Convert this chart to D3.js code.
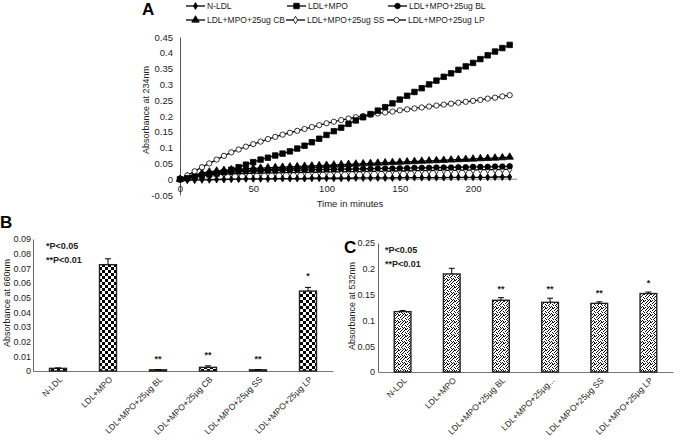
<!DOCTYPE html>
<html><head><meta charset="utf-8">
<script src="https://cdn.jsdelivr.net/npm/d3@7/dist/d3.min.js"></script>
<style>
html,body{margin:0;padding:0;background:#fff;}
svg{display:block;font-family:"Liberation Sans",Arial,sans-serif;}
</style></head>
<body>
<script>
// ---------- Panel A data ----------
const timeMin = [0,5,10,15,20,25,30,35,40,45,
  50,55,60,65,70,75,80,85,90,95,
  100,105,110,115,120,125,130,135,140,145,
  150,155,160,165,170,175,180,185,190,195,
  200,205,210,215,220,225];
const nLDL = [0,-0.003,-0.003,-0.002,-0.002,-0.001,-0.001,0,0,0.001,
  0.001,0.001,0.001,0.002,0.002,0.002,0.002,0.002,0.003,0.003,
  0.003,0.003,0.003,0.003,0.004,0.004,0.004,0.004,0.004,0.004,
  0.005,0.005,0.005,0.005,0.005,0.005,0.005,0.006,0.006,0.006,
  0.006,0.006,0.006,0.007,0.007,0.007];
const ldlMPO = [0,0.003,0.007,0.011,0.015,0.018,0.022,0.030,0.038,0.046,
  0.054,0.062,0.068,0.075,0.081,0.088,0.097,0.106,0.117,0.128,
  0.140,0.152,0.163,0.175,0.186,0.196,0.206,0.217,0.228,0.240,
  0.252,0.264,0.276,0.288,0.300,0.312,0.324,0.335,0.346,0.357,
  0.368,0.380,0.392,0.404,0.415,0.425];
const ldlBL = [0,0.006,0.011,0.015,0.018,0.020,0.022,0.023,0.024,0.025,
  0.026,0.026,0.027,0.027,0.028,0.028,0.029,0.029,0.030,0.030,
  0.031,0.031,0.032,0.032,0.032,0.033,0.033,0.034,0.034,0.034,
  0.035,0.035,0.036,0.036,0.036,0.037,0.037,0.037,0.038,0.038,
  0.039,0.039,0.039,0.040,0.040,0.041];
const ldlCB = [0,0.008,0.014,0.019,0.023,0.026,0.028,0.030,0.031,0.033,
  0.034,0.035,0.036,0.037,0.038,0.039,0.040,0.041,0.042,0.043,
  0.044,0.045,0.046,0.047,0.048,0.049,0.050,0.051,0.052,0.053,
  0.054,0.055,0.056,0.057,0.058,0.059,0.060,0.061,0.062,0.063,
  0.064,0.065,0.066,0.067,0.068,0.070];
const ldlSS = [0,0.004,0.008,0.011,0.013,0.015,0.016,0.017,0.018,0.018,
  0.019,0.019,0.020,0.020,0.021,0.021,0.021,0.022,0.022,0.022,
  0.023,0.023,0.023,0.024,0.024,0.024,0.025,0.025,0.025,0.026,
  0.026,0.026,0.027,0.027,0.027,0.028,0.028,0.028,0.029,0.029,
  0.029,0.030,0.030,0.030,0.031,0.031];
const ldlLP = [0,0.012,0.025,0.038,0.050,0.062,0.074,0.085,0.094,0.103,
  0.111,0.119,0.127,0.134,0.141,0.147,0.153,0.159,0.165,0.171,
  0.177,0.182,0.187,0.192,0.196,0.200,0.204,0.208,0.211,0.214,
  0.218,0.221,0.224,0.227,0.230,0.233,0.236,0.239,0.242,0.245,
  0.248,0.251,0.255,0.258,0.262,0.266];
const seriesNamesA = ["N-LDL","LDL+MPO","LDL+MPO+25ug BL","LDL+MPO+25ug CB","LDL+MPO+25ug SS","LDL+MPO+25ug LP"];
const yTicksA = [-0.05,0,0.05,0.1,0.15,0.2,0.25,0.3,0.35,0.4,0.45];
const yTickLabelsA = ["-0.05","0","0.05","0.1","0.15","0.2","0.25","0.3","0.35","0.4","0.45"];
const xTicksA = [0,50,100,150,200];

// ---------- Panel B data ----------
const catsB = ["N-LDL","LDL+MPO","LDL+MPO+25µg BL","LDL+MPO+25µg CB","LDL+MPO+25µg SS","LDL+MPO+25µg LP"];
const valsB = [0.0018,0.0725,0.0008,0.0025,0.0008,0.0545];
const errB  = [0.0003,0.0040,0.0002,0.0010,0.0002,0.0025];
const starsB = ["","","**","**","**","*"];
const yTicksB = [0,0.01,0.02,0.03,0.04,0.05,0.06,0.07,0.08,0.09];

// ---------- Panel C data ----------
const catsC = ["N-LDL","LDL+MPO","LDL+MPO+25µg BL","LDL+MPO+25µg...","LDL+MPO+25µg SS","LDL+MPO+25µg LP"];
const valsC = [0.117,0.190,0.139,0.135,0.133,0.152];
const errC  = [0.002,0.011,0.005,0.008,0.003,0.003];
const starsC = ["","","**","**","**","*"];
const yTicksC = [0,0.05,0.1,0.15,0.2,0.25];
const pNotes = ["*P<0.05","**P<0.01"];

// ---------- drawing ----------
const svg = d3.select("body").append("svg").attr("width",680).attr("height",440);
const defs = svg.append("defs");
// checkerboard
const chk = defs.append("pattern").attr("id","chk").attr("patternUnits","userSpaceOnUse")
  .attr("width",6).attr("height",6);
chk.append("rect").attr("width",6).attr("height",6).attr("fill","#fff");
chk.append("rect").attr("width",3).attr("height",3).attr("fill","#000");
chk.append("rect").attr("x",3).attr("y",3).attr("width",3).attr("height",3).attr("fill","#000");
// speckle
const spk = defs.append("pattern").attr("id","spk").attr("patternUnits","userSpaceOnUse")
  .attr("width",7).attr("height",7);
spk.append("rect").attr("width",7).attr("height",7).attr("fill","#fff");
[[0,0],[3,0],[5,1],[1,2],[4,2],[6,3],[2,4],[0,4],[5,5],[3,5],[1,6],[6,6],[2,1],[4,6],[6,0],[3,3]].forEach(p=>{
  spk.append("rect").attr("x",p[0]).attr("y",p[1]).attr("width",1).attr("height",1).attr("fill","#111");
});

// ===== Panel A =====
const xA = d3.scaleLinear().domain([0,230]).range([180,517]);
const yA = d3.scaleLinear().domain([-0.05,0.45]).range([195,37]);
const gA = svg.append("g");
gA.append("text").attr("x",142).attr("y",15).attr("font-size",17).attr("font-weight","bold").text("A");

const yAxA = gA.append("g").attr("transform","translate(180,0)")
  .call(d3.axisLeft(yA).tickValues(yTicksA).tickSize(0).tickPadding(7)
    .tickFormat((d,i)=>yTickLabelsA[i]));
yAxA.select(".domain").attr("stroke","#555");
yAxA.selectAll("text").attr("font-size",9.5).attr("fill","#222").attr("font-family","Liberation Sans, Arial");

const xAxA = gA.append("g").attr("transform",`translate(0,${yA(0)})`)
  .call(d3.axisBottom(xA).tickValues(xTicksA).tickSize(0).tickPadding(6).tickFormat(d3.format("d")));
xAxA.select(".domain").attr("stroke","#888").attr("d",`M${xA(0)},0H${xA(230)}`);
xAxA.selectAll("text").attr("font-size",9.5).attr("fill","#222").attr("font-family","Liberation Sans, Arial");

gA.append("text").attr("transform","translate(146,110) rotate(-90)").attr("text-anchor","middle")
  .attr("dy","0.35em").attr("font-size",9).attr("fill","#222").text("Absorbance at 234nm");
gA.append("text").attr("x",350).attr("y",207).attr("text-anchor","middle")
  .attr("font-size",9.5).attr("fill","#222").text("Time in minutes");

const seriesA = [
  {name:seriesNamesA[0], vals:nLDL, sym:d3.symbolDiamond, size:14, fill:"#000"},
  {name:seriesNamesA[1], vals:ldlMPO, sym:d3.symbolSquare, size:30, fill:"#000"},
  {name:seriesNamesA[2], vals:ldlBL, sym:d3.symbolCircle, size:24, fill:"#000"},
  {name:seriesNamesA[3], vals:ldlCB, sym:d3.symbolTriangle, size:24, fill:"#000"},
  {name:seriesNamesA[4], vals:ldlSS, sym:d3.symbolDiamond, size:16, fill:"#fff"},
  {name:seriesNamesA[5], vals:ldlLP, sym:d3.symbolCircle, size:22, fill:"#fff"}
];
const line = d3.line().x(d=>xA(d[0])).y(d=>yA(d[1]));
const drawOrder = [4,2,3,0,5,1];
drawOrder.forEach(k=>{
  const s = seriesA[k];
  const pts = timeMin.map((t,i)=>[t,s.vals[i]]);
  gA.append("path").datum(pts).attr("d",line).attr("fill","none").attr("stroke","#000").attr("stroke-width",1.3);
  gA.selectAll(null).data(pts).enter().append("path")
    .attr("transform",d=>`translate(${xA(d[0])},${yA(d[1])})`)
    .attr("d",d3.symbol().type(s.sym).size(s.size))
    .attr("fill",s.fill).attr("stroke","#000").attr("stroke-width",0.8);
});

// legend
const legPos = [[186,6],[287,6],[388,6],[186,20],[286,20],[387,20]];
seriesA.forEach((s,i)=>{
  const [lx,ly] = legPos[i];
  const lg = gA.append("g").attr("transform",`translate(${lx},${ly})`);
  lg.append("line").attr("x1",0).attr("x2",19).attr("y1",0).attr("y2",0).attr("stroke","#000").attr("stroke-width",1.3);
  lg.append("path").attr("transform","translate(9.5,0)").attr("d",d3.symbol().type(s.sym).size(s.size))
    .attr("fill",s.fill).attr("stroke","#000").attr("stroke-width",0.8);
  lg.append("text").attr("x",21).attr("y",0).attr("dy","0.35em").attr("font-size",8.5).attr("fill","#222").text(s.name);
});

// ===== bar panel helper =====
function barPanel(opt){
  const g = svg.append("g");
  const x = d3.scaleBand().domain(opt.cats).range(opt.xr).paddingInner(0.66).paddingOuter(0.33);
  const y = d3.scaleLinear().domain(opt.yd).range(opt.yr);
  const yAx = g.append("g").attr("transform",`translate(${opt.xr[0]},0)`)
    .call(d3.axisLeft(y).tickValues(opt.yTicks).tickSize(0).tickPadding(opt.tp).tickFormat(d=>d3.format("")(+d.toFixed(3))));
  yAx.select(".domain").attr("stroke","#666");
  yAx.selectAll("text").attr("font-size",9).attr("fill","#222").attr("font-family","Liberation Sans, Arial");
  const xAx = g.append("g").attr("transform",`translate(0,${opt.yr[0]})`)
    .call(d3.axisBottom(x).tickSize(0).tickFormat(""));
  xAx.select(".domain").attr("stroke","#777");
  g.selectAll(null).data(opt.cats).enter().append("text")
    .attr("transform",d=>`translate(${x(d)+x.bandwidth()/2+5},${opt.yr[0]+9}) rotate(-45)`)
    .attr("text-anchor","end").attr("font-size",8.5).attr("fill","#222").text(d=>d);
  g.selectAll(null).data(opt.cats).enter().append("rect")
    .attr("x",d=>x(d)).attr("width",x.bandwidth())
    .attr("y",(d,i)=>y(opt.vals[i])).attr("height",(d,i)=>y(0)-y(opt.vals[i]))
    .attr("fill",`url(#${opt.pat})`).attr("stroke","#222").attr("stroke-width",1.4);
  opt.cats.forEach((c,i)=>{
    const cx = x(c)+x.bandwidth()/2;
    const yt = y(opt.vals[i]+opt.err[i]);
    g.append("line").attr("x1",cx).attr("x2",cx).attr("y1",y(opt.vals[i])).attr("y2",yt).attr("stroke","#000");
    g.append("line").attr("x1",cx-3).attr("x2",cx+3).attr("y1",yt).attr("y2",yt).attr("stroke","#000");
    if(opt.stars[i]) g.append("text").attr("x",cx).attr("y",yt-opt.starOff).attr("text-anchor","middle")
      .attr("font-size",9).attr("font-weight","bold").attr("fill","#222").text(opt.stars[i]);
  });
  g.append("text").attr("x",opt.letter[0]).attr("y",opt.letter[1]).attr("font-size",17).attr("font-weight","bold").text(opt.letter[2]);
  g.append("text").attr("transform",`translate(${opt.title[0]},${opt.title[1]}) rotate(-90)`).attr("text-anchor","middle")
    .attr("dy","0.35em").attr("font-size",9).attr("fill","#222").text(opt.title[2]);
  pNotes.forEach((t,i)=>{
    g.append("text").attr("x",opt.note[0]).attr("y",opt.note[1]+i*14.5).attr("font-size",9).attr("font-weight","bold")
      .attr("fill","#222").text(t);
  });
}

barPanel({cats:catsB, vals:valsB, err:errB, stars:starsB, yTicks:yTicksB, yd:[0,0.09], yr:[371,239], xr:[33,333],
  tp:2, pat:"chk", starOff:8, letter:[0,228,"B"], title:[7,303,"Absorbance at 660nm"], note:[46,248.5]});
barPanel({cats:catsC, vals:valsC, err:errC, stars:starsC, yTicks:yTicksC, yd:[0,0.25], yr:[372,243], xr:[378,673],
  tp:3, pat:"spk", starOff:6, letter:[344,253,"C"], title:[352,306,"Absorbance at 532nm"], note:[385,252.5]});
</script>
</body></html>
